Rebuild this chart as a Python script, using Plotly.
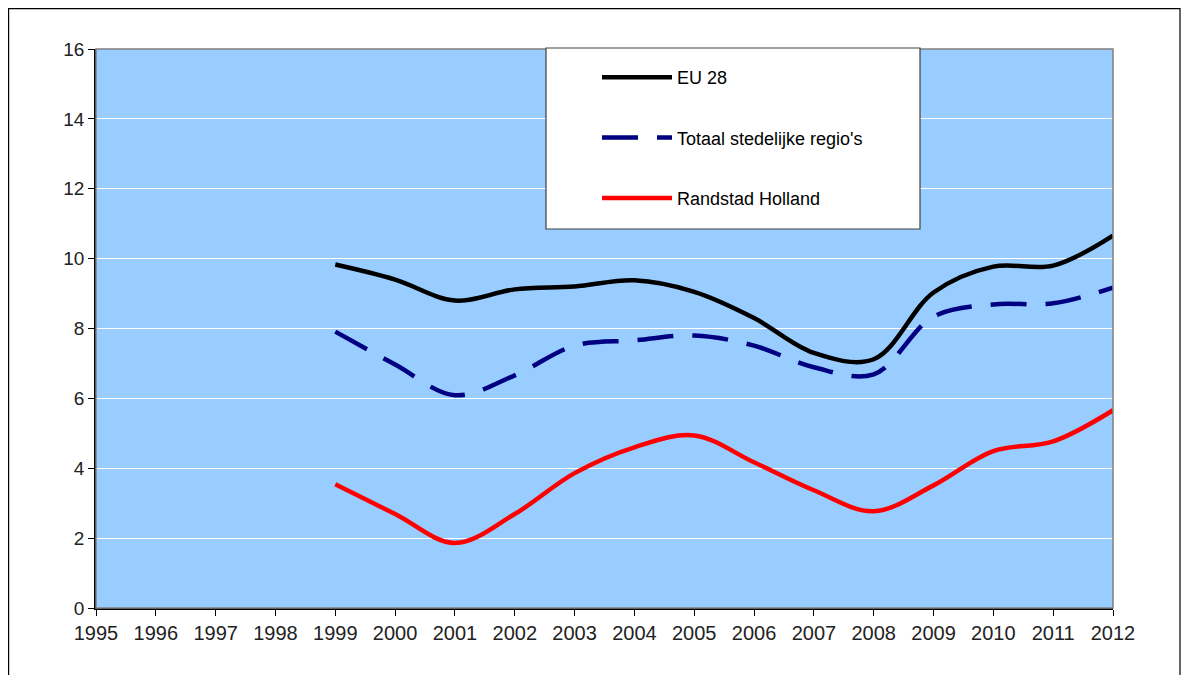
import plotly.graph_objects as go

years = [1999, 2000, 2001, 2002, 2003, 2004, 2005, 2006, 2007, 2008, 2009, 2010, 2011, 2012]
eu28 = [9.83, 9.40, 8.80, 9.12, 9.20, 9.38, 9.05, 8.30, 7.30, 7.12, 9.03, 9.77, 9.80, 10.66]
stedelijk = [7.91, 6.97, 6.09, 6.66, 7.51, 7.66, 7.80, 7.51, 6.89, 6.69, 8.34, 8.69, 8.72, 9.17]
randstad = [3.54, 2.69, 1.86, 2.69, 3.86, 4.60, 4.94, 4.17, 3.37, 2.77, 3.51, 4.49, 4.77, 5.66]

names = ["EU 28", "Totaal stedelijke regio's", "Randstad Holland"]
x_ticks = list(range(1995, 2013))
y_ticks = list(range(0, 17, 2))

# page body has an 8px offset
OFF = 8
W, H = 1190 - OFF, 675 - OFF
L, R, T, B = 96 - OFF, 1113 - OFF, 49 - OFF, 608 - OFF
pw, ph = R - L, B - T


def px(x):
    return (x - OFF - L) / pw


def py(y):
    return (B - (y - OFF)) / ph


FONT = "Liberation Sans, Arial, sans-serif"

fig = go.Figure()
fig.add_trace(go.Scatter(x=years, y=eu28, name=names[0], mode="lines",
                         line=dict(color="#000000", width=4.5, shape="spline", smoothing=1),
                         legendgroup="a"))
fig.add_trace(go.Scatter(x=years, y=stedelijk, name=names[1], mode="lines",
                         line=dict(color="#000080", width=4.5, shape="spline", smoothing=1,
                                   dash="36px,19px"),
                         legendgroup="b"))
fig.add_trace(go.Scatter(x=years, y=randstad, name=names[2], mode="lines",
                         line=dict(color="#FF0000", width=4.5, shape="spline", smoothing=1),
                         legendgroup="c"))

shapes = [
    # outer frame
    dict(type="rect", xref="paper", yref="paper", x0=px(8.6), x1=px(1180), y0=py(720), y1=py(8.6),
         line=dict(color="#000000", width=1.2), fillcolor="rgba(0,0,0,0)", layer="below"),
    # plot area border (gray)
    dict(type="rect", xref="paper", yref="paper", x0=0, x1=1, y0=0, y1=1,
         line=dict(color="#808080", width=1.5), fillcolor="rgba(0,0,0,0)", layer="above"),
    # legend box
    dict(type="rect", xref="paper", yref="paper", x0=px(546), x1=px(920), y0=py(229), y1=py(48),
         line=dict(color="#404040", width=1.2), fillcolor="#FFFFFF", layer="above"),
]

fig.update_layout(
    width=W, height=H,
    margin=dict(l=L, r=W - R, t=T, b=H - B, autoexpand=False),
    paper_bgcolor="#FFFFFF",
    plot_bgcolor="#99CCFF",
    font=dict(family=FONT, size=18, color="#000000"),
    shapes=shapes,
    showlegend=True,
    legend=dict(x=px(597), y=py(59), xanchor="left", yanchor="top",
                bgcolor="rgba(0,0,0,0)", borderwidth=0,
                font=dict(family=FONT, size=18, color="#000000"),
                tracegroupgap=34, itemwidth=70),
    xaxis=dict(range=[1995, 2012], tickmode="array", tickvals=x_ticks,
               ticktext=[str(v) for v in x_ticks],
               showgrid=False, zeroline=False,
               showline=True, linecolor="#000000", linewidth=1.5,
               ticks="outside", ticklen=6, tickcolor="#000000", tickwidth=1,
               ticklabelstandoff=0,
               tickfont=dict(family=FONT, size=20, color="#222222")),
    yaxis=dict(range=[0, 16], tickmode="array", tickvals=y_ticks,
               showgrid=True, gridcolor="#FFFFFF", gridwidth=1, zeroline=False,
               showline=True, linecolor="#000000", linewidth=1.5,
               ticks="outside", ticklen=6, tickcolor="#000000", tickwidth=1,
               tickfont=dict(family=FONT, size=19, color="#222222")),
)

fig.write_html("out.html")
